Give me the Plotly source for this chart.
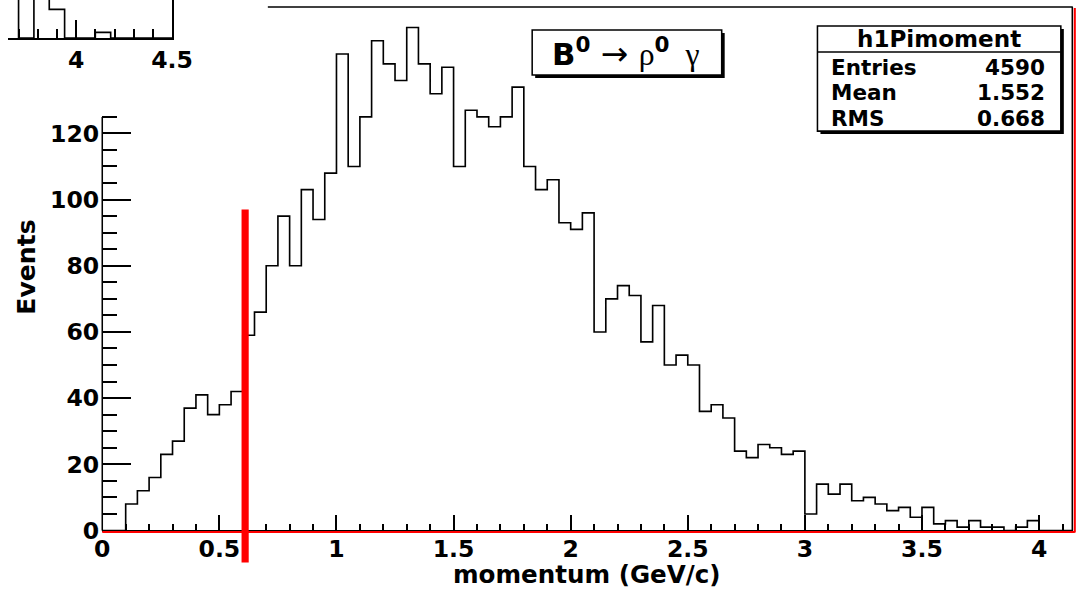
import numpy as np
import plotly.graph_objects as go

# Figure fills the viewport (body margin removed); helpers map picture
# pixels of the reference to paper fractions of this figure.
FIG_W, FIG_H = 1096, 606
S, OX, OY = 0.976, 5.5, 0.0

# ---------------- data ----------------
bin_width = 0.05
first_edge = 0.10
events = [8, 12, 16, 23, 27, 37, 41, 35, 38, 42,
          59, 66, 80, 95, 80, 103, 94, 108,
          144, 110, 125, 148, 141, 136, 152, 141, 132, 140,
          110, 127, 125, 122, 125, 134,
          110, 103, 106, 93, 91, 96,
          60, 70, 74, 71, 57, 68, 50, 53, 50,
          36, 38, 34, 24, 22, 26, 25, 23, 24,
          5, 14, 11, 14, 9, 10, 8, 6,
          7, 4, 7, 2, 3, 1, 3, 1, 1, 0, 1, 3]
x_range = [0, 4.144]
y_range = [0, 158.2]
x_major_ticks = [0, 0.5, 1, 1.5, 2, 2.5, 3, 3.5, 4]
y_major_ticks = [0, 20, 40, 60, 80, 100, 120]
y_minor_ticks = [v for v in range(5, 130, 5) if v % 20 != 0]

cut_momentum = 0.61
cut_top = 97

stats_name = "h1Pimoment"
stats_labels = ["Entries", "Mean", "RMS"]
stats_values = ["4590", "1.552", "0.668"]

# inset (part of another histogram peeking in the top-left corner)
inset_first_edge = 3.54
inset_bin_width = 0.08
inset_counts = [9, 8, 0, 10, 5, 0, 0, 1, 0, 0, 0, 0]
inset_range = [3.645, 4.5]
inset_y_range = [0, 6.65]
inset_major = [4, 4.5]
inset_major_text = ["4", "4.5"]
inset_minor = [3.7, 3.8, 3.9, 4.1, 4.2, 4.3, 4.4]

# ---------------- helpers ----------------
def px(x):
    return (x - OX) / S / FIG_W

def py(y):
    return 1 - (y - OY) / S / FIG_H

def fs(size):
    return size / S

def lw(w):
    return w / S

def step_xy(x0, width, counts, lo, hi):
    edges = [round(x0 + i * width, 4) for i in range(len(counts) + 1)]
    xs = [lo] + edges + [hi]
    ys = [0] + list(counts) + [0, 0]
    return xs, ys

BOLD = dict(family="DejaVu Sans", weight="bold", color="black")
TICK_SIZE = fs(23)
LW = lw(1.5)

hx, hy = step_xy(first_edge, bin_width, events, x_range[0], x_range[1])
ix, iy = step_xy(inset_first_edge, inset_bin_width, inset_counts, inset_first_edge, inset_range[1])

fig = go.Figure()
fig.add_trace(go.Scatter(x=hx, y=hy, mode="lines", line=dict(color="black", width=lw(1.6), shape="hv"),
                         hoverinfo="skip", showlegend=False))
fig.add_trace(go.Scatter(x=ix, y=iy, mode="lines", line=dict(color="black", width=lw(1.6), shape="hv"),
                         xaxis="x2", yaxis="y2", hoverinfo="skip", showlegend=False))

FRAME_TOP = 7
main_x_dom = [px(100), px(1073)]
main_y_dom = [py(530), py(FRAME_TOP)]

fig.update_layout(
    width=FIG_W, height=FIG_H,
    margin=dict(l=0, r=0, t=0, b=0),
    paper_bgcolor="white", plot_bgcolor="rgba(0,0,0,0)",
    showlegend=False,
    xaxis=dict(domain=main_x_dom, range=x_range, anchor="y",
               showline=True, linecolor="black", linewidth=LW,
               ticks="inside", ticklen=fs(15), tickwidth=LW, tickcolor="black",
               tickvals=x_major_ticks, ticktext=[f"{v:g}" for v in x_major_ticks],
               minor=dict(dtick=0.1, tick0=0, ticks="inside", ticklen=fs(7), tickwidth=LW, tickcolor="black"),
               tickfont=dict(size=TICK_SIZE, **BOLD), showgrid=False, zeroline=False,
               ticklabelstandoff=-4),
    yaxis=dict(domain=main_y_dom, range=y_range, anchor="x",
               showline=False,
               ticks="inside", ticklen=fs(28), tickwidth=LW, tickcolor="black",
               tickvals=y_major_ticks, ticktext=[str(v) for v in y_major_ticks],
               minor=dict(tickmode="array", tickvals=y_minor_ticks, ticks="inside", ticklen=fs(14),
                          tickwidth=LW, tickcolor="black"),
               tickfont=dict(size=TICK_SIZE, **BOLD), showgrid=False, zeroline=False,
               ticklabelstandoff=2),
    xaxis2=dict(domain=[0, px(170)], range=inset_range, anchor="y2",
                showline=True, linecolor="black", linewidth=LW,
                ticks="inside", ticklen=fs(18), tickwidth=LW, tickcolor="black",
                tickvals=inset_major, ticktext=inset_major_text,
                minor=dict(tickmode="array", tickvals=inset_minor, ticks="inside", ticklen=fs(9),
                           tickwidth=LW, tickcolor="black"),
                tickfont=dict(size=TICK_SIZE, **BOLD), showgrid=False, zeroline=False),
    yaxis2=dict(domain=[py(38), 1], range=inset_y_range, anchor="x2", side="right",
                showline=True, linecolor="black", linewidth=LW,
                ticks="", showticklabels=False, showgrid=False, zeroline=False),
)

def hline(x0, x1, y, color="black", width=1.5):
    return dict(type="line", xref="paper", yref="paper", x0=px(x0), x1=px(x1), y0=py(y), y1=py(y),
                line=dict(color=color, width=lw(width)))

def vline(x, y0, y1, color="black", width=1.5):
    return dict(type="line", xref="paper", yref="paper", x0=px(x), x1=px(x), y0=py(y0), y1=py(y1),
                line=dict(color=color, width=lw(width)))

def rect(l, t, r, b, fill, border=True):
    return dict(type="rect", xref="paper", yref="paper", x0=px(l), x1=px(r), y0=py(b), y1=py(t),
                fillcolor=fill, line=dict(color="black", width=lw(1.5) if border else 0))

shapes = [
    hline(266, 1073, FRAME_TOP),
    vline(1072.5, FRAME_TOP, 530),
    vline(1075, 8, 532, color="red", width=2),
    hline(100, 1075, 531.5, color="red", width=2),
    vline(100, 117, 530),
]

# cut line
ytop_paper = main_y_dom[0] + (cut_top - y_range[0]) / (y_range[1] - y_range[0]) * (main_y_dom[1] - main_y_dom[0])
shapes.append(dict(type="line", xref="x", yref="paper", x0=cut_momentum, x1=cut_momentum,
                   y0=py(562), y1=ytop_paper, line=dict(color="red", width=lw(7))))

# formula box with shadow
fb = dict(l=531, r=721, t=30, b=75)
shapes.append(rect(fb["l"] + 3, fb["t"] + 3, fb["r"] + 3, fb["b"] + 3, "black", border=False))
shapes.append(rect(fb["l"], fb["t"], fb["r"], fb["b"], "white"))

# stats box with shadow
sb = dict(l=817, r=1061, t=26, b=131)
shapes.append(rect(sb["l"] + 3, sb["t"] + 3, sb["r"] + 3, sb["b"] + 3, "black", border=False))
shapes.append(rect(sb["l"], sb["t"], sb["r"], sb["b"], "white"))
shapes.append(hline(sb["l"], sb["r"], 52))

fig.update_layout(shapes=shapes)

def text(x, y, s, size, xanchor="center", angle=0, font=None):
    f = dict(size=fs(size), **BOLD) if font is None else font
    return dict(xref="paper", yref="paper", x=px(x), y=py(y), text=s, showarrow=False,
                xanchor=xanchor, yanchor="middle", textangle=angle, font=f)

ann = [text(939, 39, stats_name, 22.5)]
for i, (lab, val) in enumerate(zip(stats_labels, stats_values)):
    yc = 67 + 25.7 * i
    ann.append(text(sb["l"] + 12, yc, lab, 21, xanchor="left"))
    ann.append(text(1047, yc, val, 21, xanchor="right"))

formula = ("<b>B<sup>0</sup></b>"
           f"<span style=\"font-family:'DejaVu Sans';font-weight:normal;font-size:{fs(32):.1f}px\"> \u2192 </span>"
           f"<span style=\"font-family:'Liberation Serif';font-weight:normal;font-size:{fs(31):.1f}px\">\u03c1</span>"
           "<b><sup>0</sup></b>"
           f"<span style=\"font-family:'Liberation Serif';font-weight:normal;font-size:{fs(31):.1f}px\">  \u03b3</span>")
ann.append(text(625, 52, formula, 30, font=dict(size=fs(30), family="DejaVu Sans", color="black")))

ann.append(text(586, 574, "momentum (GeV/c)", 24))
ann.append(text(24, 267, "Events", 24.5, angle=-90))
fig.update_layout(annotations=ann)

fig.write_html("out.html", config={"displayModeBar": False},
               post_script="document.body.style.margin='0';document.documentElement.style.overflow='hidden';")
